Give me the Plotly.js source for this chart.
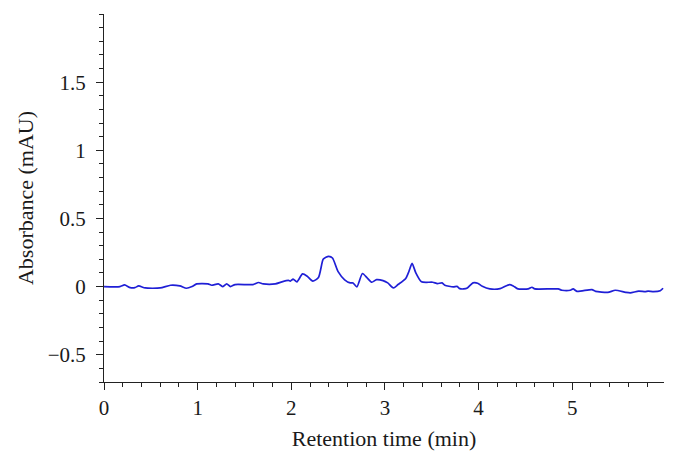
<!DOCTYPE html>
<html>
<head>
<meta charset="utf-8">
<script src="https://cdn.plot.ly/plotly-3.0.1.min.js"></script>
<style>
  html, body { margin: 0; padding: 0; background: #fff; }
  #chart { width: 678px; height: 465px; }
</style>
</head>
<body>
<div id="chart"></div>
<script>
// chromatogram: retention time (min) and absorbance (mAU)
const retentionTime = [
    0, 0.17, 0.22, 0.28, 0.33, 0.37, 0.44, 0.60, 0.71, 0.81, 0.88, 0.94, 0.99,
    1.11, 1.15, 1.22, 1.27, 1.31, 1.35, 1.40, 1.59, 1.65, 1.70, 1.83, 1.90, 1.97,
    1.99, 2.02, 2.06, 2.12, 2.17, 2.23, 2.29, 2.34, 2.37, 2.40, 2.44, 2.50, 2.57,
    2.63, 2.66, 2.70, 2.76, 2.81, 2.86, 2.91, 2.98, 3.03, 3.09, 3.14, 3.22, 3.25,
    3.29, 3.33, 3.39, 3.51, 3.56, 3.61, 3.64, 3.73, 3.77, 3.80, 3.84, 3.88, 3.94,
    3.99, 4.04, 4.12, 4.23, 4.33, 4.37, 4.42, 4.53, 4.57, 4.60, 4.85, 4.89, 4.98,
    5.01, 5.05, 5.21, 5.25, 5.38, 5.46, 5.57, 5.62, 5.71, 5.78, 5.81, 5.87, 5.94,
    5.97
];
const absorbance = [
    0, 0, 0.012, -0.008, -0.008, 0.005, -0.01, -0.01, 0.01, 0.005, -0.012, 0.0, 0.02,
    0.02, 0.01, 0.02, 0.0, 0.02, 0.0, 0.015, 0.015, 0.03, 0.02, 0.02, 0.035, 0.045,
    0.04, 0.055, 0.035, 0.093, 0.076, 0.04, 0.066, 0.2, 0.215, 0.222, 0.21, 0.11, 0.05,
    0.027, 0.027, -0.002, 0.096, 0.064, 0.032, 0.051, 0.044, 0.027, -0.01, 0.015, 0.057, 0.1,
    0.17, 0.1, 0.035, 0.032, 0.022, 0.027, 0.01, -0.002, 0.002, -0.015, -0.017, -0.01, 0.027,
    0.025, 0.002, -0.017, -0.015, 0.015, 0.005, -0.017, -0.017, -0.005, -0.017, -0.017, -0.027, -0.027,
    -0.017, -0.035, -0.022, -0.035, -0.042, -0.027, -0.042, -0.046, -0.033, -0.037, -0.033, -0.037, -0.03,
    -0.012
];

const xTicks = [0, 1, 2, 3, 4, 5];
const yTicks = [-0.5, 0, 0.5, 1, 1.5];
const yTickLabels = ['\u22120.5', '0', '0.5', '1', '1.5'];

const serif = 'Liberation Serif, Times New Roman, serif';

const trace = {
    x: retentionTime,
    y: absorbance,
    type: 'scatter',
    mode: 'lines',
    line: { color: '#1f1fd6', width: 1.7, shape: 'spline', smoothing: 0.6 },
    hoverinfo: 'x+y'
};

const layout = {
    width: 678,
    height: 465,
    margin: { l: 104, r: 14, t: 14, b: 83 },
    paper_bgcolor: '#fff',
    plot_bgcolor: '#fff',
    showlegend: false,
    font: { family: serif, size: 21, color: '#1a1a1a' },
    xaxis: {
        range: [0, 5.98],
        tickvals: xTicks,
        ticks: 'outside',
        ticklen: 7,
        tickcolor: '#222',
        showline: true,
        linecolor: '#222',
        linewidth: 1,
        showgrid: false,
        zeroline: false,
        automargin: false,
        minor: { dtick: 0.2, tick0: 0, ticks: 'outside', ticklen: 4, tickcolor: '#222', showgrid: false },
        title: { text: 'Retention time (min)', font: { family: serif, size: 22 }, standoff: 11 }
    },
    yaxis: {
        range: [-0.7, 2.0],
        tickvals: yTicks,
        ticktext: yTickLabels,
        ticks: 'outside',
        ticklen: 7,
        ticklabelstandoff: 6,
        tickcolor: '#222',
        showline: true,
        linecolor: '#222',
        linewidth: 1,
        showgrid: false,
        zeroline: false,
        automargin: false,
        minor: { dtick: 0.1, tick0: 0, ticks: 'outside', ticklen: 4, tickcolor: '#222', showgrid: false },
        title: { text: 'Absorbance (mAU)', font: { family: serif, size: 22 }, standoff: 8 }
    }
};

Plotly.newPlot('chart', [trace], layout, { displayModeBar: false, staticPlot: true });
</script>
</body>
</html>
